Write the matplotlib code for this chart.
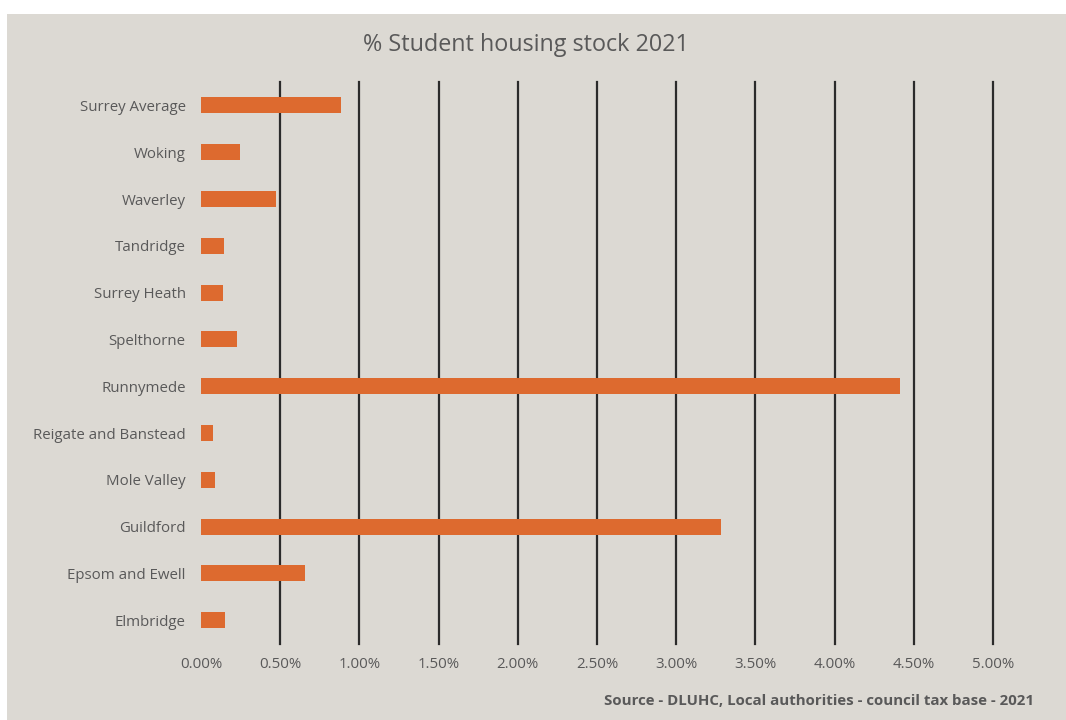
import matplotlib
matplotlib.use("Agg")
import matplotlib.pyplot as plt
from matplotlib.patches import Rectangle
from matplotlib.ticker import FuncFormatter

categories = ["Surrey Average", "Woking", "Waverley", "Tandridge", "Surrey Heath",
              "Spelthorne", "Runnymede", "Reigate and Banstead", "Mole Valley",
              "Guildford", "Epsom and Ewell", "Elmbridge"]
values = [0.886, 0.246, 0.475, 0.147, 0.137, 0.227, 4.41, 0.078, 0.086, 3.285, 0.657, 0.153]
xticks = [0.0, 0.5, 1.0, 1.5, 2.0, 2.5, 3.0, 3.5, 4.0, 4.5, 5.0]

BG = "#dcd9d3"
BAR = "#dd6a2f"
TXT = "#595959"

plt.rcParams['font.family'] = ['Open Sans', 'DejaVu Sans']

fig = plt.figure(figsize=(10.66, 7.2), dpi=100)
fig.patch.set_facecolor("white")
bgax = fig.add_axes([0, 0, 1, 1], zorder=-10)
bgax.set_axis_off()
bgax.set_xlim(0, 1066)
bgax.set_ylim(720, 0)
bgax.add_patch(Rectangle((7, 14), 1066 - 7, 720 - 14, facecolor=BG, edgecolor="none"))

ax = fig.add_axes([201/1066, 1 - 643.6/720, (993 - 201)/1066, (643.6 - 82)/720], zorder=1)
ax.set_facecolor("none")

y = list(range(len(categories)))
ax.barh(y, values, height=0.34, color=BAR, zorder=3)
ax.set_ylim(len(categories) - 0.5, -0.5)
ax.set_xlim(0, 5.0)
ax.set_yticks(y)
ax.set_yticklabels(categories)
ax.set_xticks(xticks)
ax.xaxis.set_major_formatter(FuncFormatter(lambda v, p: f"{v:.2f}%"))

for x in xticks[1:]:
    ax.axvline(x, color="#2b2b2b", linewidth=1.6, zorder=1, clip_on=False)

for s in ax.spines.values():
    s.set_visible(False)
ax.tick_params(axis="both", length=0, colors=TXT, labelsize=10.8)
ax.tick_params(axis="y", pad=11)
ax.tick_params(axis="x", pad=10)

fig.text(525.5/1066, 1 - 45/720, "% Student housing stock 2021", ha="center", va="center",
         fontsize=16.8, color=TXT)
fig.text(1034/1066, 1 - 701/720, "Source - DLUHC, Local authorities - council tax base - 2021",
         ha="right", va="center", fontsize=10.8, fontweight="bold", color=TXT)

fig.savefig("out.png", dpi=100, facecolor=fig.get_facecolor())
